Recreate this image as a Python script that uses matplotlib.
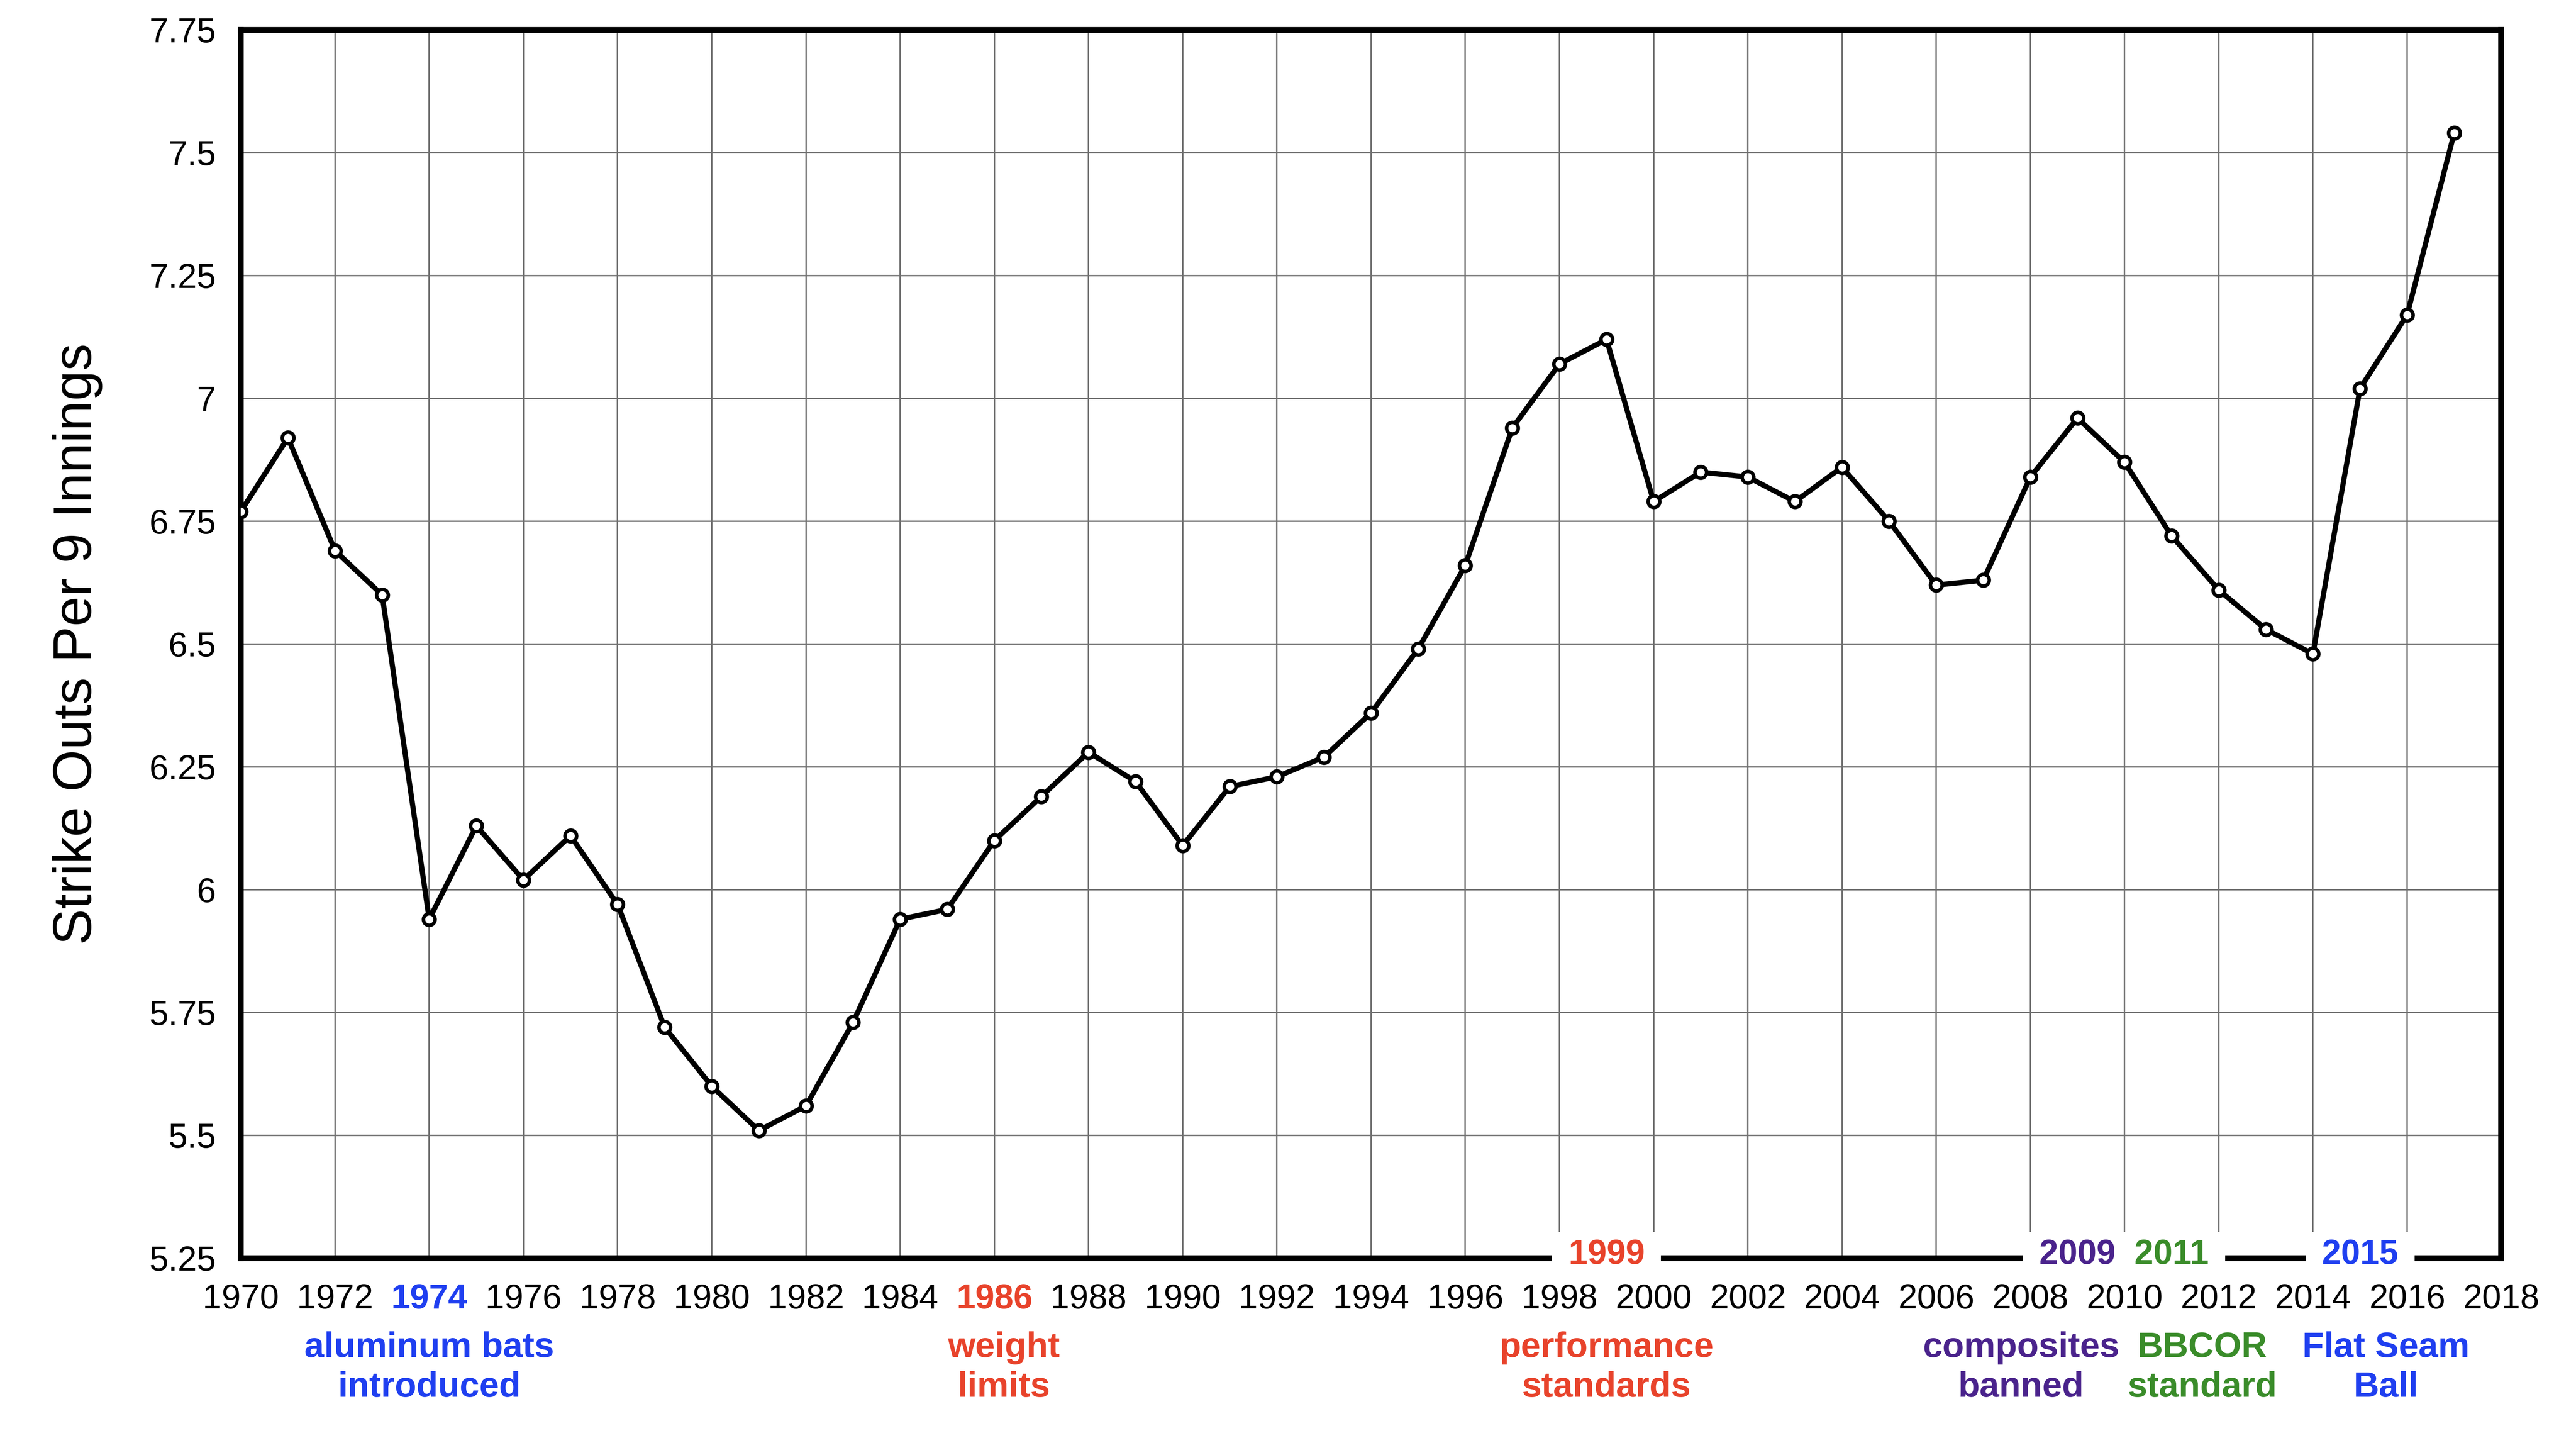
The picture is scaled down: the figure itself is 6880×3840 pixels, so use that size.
import numpy as np
import matplotlib
matplotlib.use('Agg')
import matplotlib.pyplot as plt
import matplotlib.transforms as mtransforms

plt.rcParams['font.family'] = ['Liberation Sans', 'DejaVu Sans']

# strike outs per 9 innings, one value per season
years = list(range(1970, 2018))
so9 = [6.77, 6.92, 6.69, 6.60, 5.94, 6.13, 6.02, 6.11, 5.97, 5.72,
       5.60, 5.51, 5.56, 5.73, 5.94, 5.96, 6.10, 6.19, 6.28, 6.22,
       6.09, 6.21, 6.23, 6.27, 6.36, 6.49, 6.66, 6.94, 7.07, 7.12,
       6.79, 6.85, 6.84, 6.79, 6.86, 6.75, 6.62, 6.63, 6.84, 6.96,
       6.87, 6.72, 6.61, 6.53, 6.48, 7.02, 7.17, 7.54]

xticks = list(range(1970, 2019, 2))
yticks = [5.25, 5.5, 5.75, 6.0, 6.25, 6.5, 6.75, 7.0, 7.25, 7.5, 7.75]

# rule changes
event_years = [1974, 1986, 1999, 2009, 2011, 2015]
event_text = ['aluminum bats\nintroduced', 'weight\nlimits', 'performance\nstandards',
              'composites\nbanned', 'BBCOR\nstandard', 'Flat Seam\nBall']
event_colors = ['#1f3ff0', '#e8432b', '#e8432b', '#4a238c', '#3a8c2a', '#1f3ff0']
# where the two-line notes are centred (in years)
note_x = [1974, 1986.2, 1999, 2007.8, 2011.65, 2015.55]

fig = plt.figure(figsize=(17.2, 9.6), dpi=400)
ax = fig.add_axes([0.0935, 0.125, 0.8775, 0.8542])

ax.plot(years, so9, color='black', lw=2.5, marker='o', ms=5.6,
        mfc='white', mec='black', mew=1.7, zorder=3)

ax.set_xlim(1970, 2018)
ax.set_ylim(5.25, 7.75)
ax.set_xticks(xticks, labels=[str(y) for y in xticks])
ax.set_yticks(yticks, labels=['%g' % v for v in yticks])
ax.grid(True, color='#707070', lw=0.7)
ax.set_axisbelow(True)
ax.tick_params(length=0, labelsize=16.5, pad=12)
for sp in ax.spines.values():
    sp.set_linewidth(2.8)

# years that are ticks get coloured tick labels, the others sit on the axis line
for yr, c in zip(event_years, event_colors):
    if yr in xticks:
        for lab in ax.get_xticklabels():
            if lab.get_text() == str(yr):
                lab.set_color(c)
                lab.set_fontweight('bold')
    else:
        ax.annotate(' %d ' % yr, xy=(yr, 5.25), xytext=(0, -2.7),
                    textcoords='offset points', ha='center', va='baseline',
                    fontsize=16.5, fontweight='bold', color=c,
                    bbox=dict(boxstyle='square,pad=0.2', fc='white', ec='none'),
                    annotation_clip=False, zorder=10)

trans = mtransforms.blended_transform_factory(ax.transData, fig.transFigure)
for x, txt, c in zip(note_x, event_text, event_colors):
    ax.text(x, 1 - 3555 / 3840, txt, transform=trans, ha='center', va='top',
            multialignment='center', fontsize=17, fontweight='bold', color=c,
            linespacing=1.25, clip_on=False)

fig.text(207 / 6880, 1 - 1720 / 3840, 'Strike Outs Per 9 Innings', rotation=90,
         ha='center', va='center', fontsize=26)

fig.savefig('out.png', dpi=400, facecolor='white')
